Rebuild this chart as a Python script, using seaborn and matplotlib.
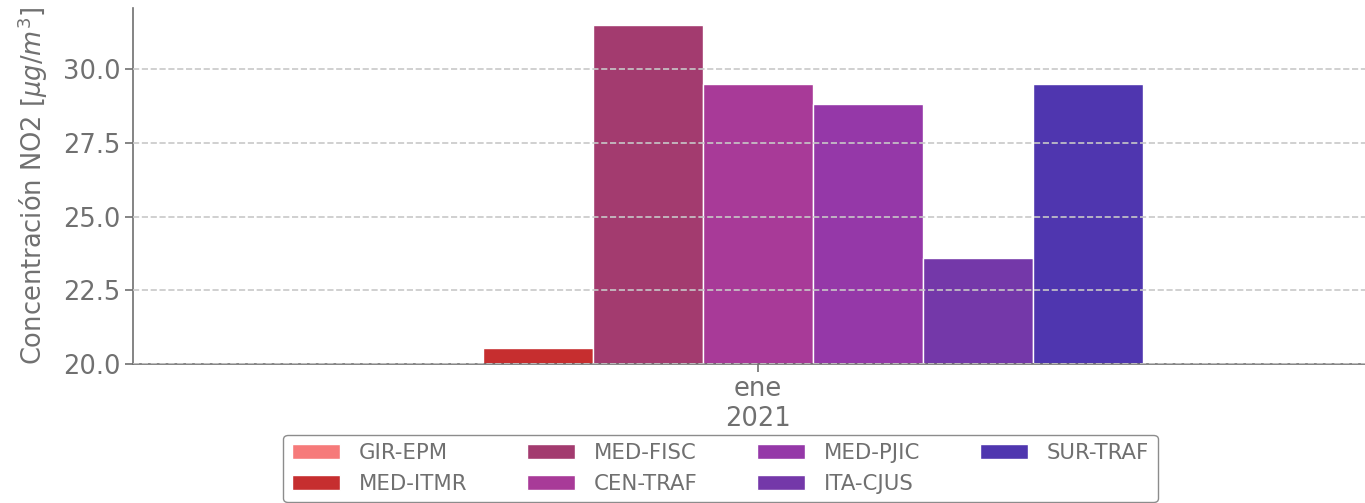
import pandas as pd
import matplotlib
matplotlib.use("Agg")
import matplotlib.pyplot as plt
import seaborn as sns

# Datos
estaciones = ['GIR-EPM', 'MED-ITMR', 'MED-FISC', 'CEN-TRAF', 'MED-PJIC', 'ITA-CJUS', 'SUR-TRAF']
concentracion = [19.0, 20.55, 31.5, 29.5, 28.8, 23.6, 29.5]
colores = ['#F67A7A', '#C62E2F', '#A33B6F', '#A83A98', '#9538A8', '#7438A9', '#4F36AF']
periodo = ['ene\n2021'] * len(estaciones)

data = pd.DataFrame({'Periodo': periodo, 'Estacion': estaciones, 'NO2': concentracion})

gris = '#707070'
sns.set_style('white')
plt.rcParams['font.family'] = ['DejaVu Sans']

fig = plt.figure(figsize=(13.65, 5.03), dpi=100)
# el eje x se extiende un poco más allá del borde derecho
ax = fig.add_axes([133 / 1365, 139 / 503, 1250 / 1365, 356 / 503])

sns.barplot(data=data, x='Periodo', y='NO2', hue='Estacion', hue_order=estaciones,
            palette=colores, saturation=1, width=0.616, edgecolor='white', linewidth=1,
            ax=ax, legend=True)

ax.set_ylim(20, 32.07)
ax.set_xlim(-0.5, 0.5)
ax.set_yticks([20.0, 22.5, 25.0, 27.5, 30.0])
ax.set_yticklabels(['20.0', '22.5', '25.0', '27.5', '30.0'])
ax.yaxis.grid(True, linestyle='--', color='#c8c8c8', linewidth=1.2)
ax.set_axisbelow(False)
ax.set_xlabel('')
ax.set_ylabel(r'Concentración NO2 [$\mu g/m^3$]', fontsize=18.5, color=gris, labelpad=9)
ax.tick_params(axis='both', labelsize=18.5, colors=gris, length=5.5, width=1.2)
ax.tick_params(axis='both', which='both', bottom=True, left=True)

for lado in ['top', 'right']:
    ax.spines[lado].set_visible(False)
for lado in ['left', 'bottom']:
    ax.spines[lado].set_color(gris)
    ax.spines[lado].set_linewidth(1.2)

ax.get_legend().remove()
handles, labels = ax.get_legend_handles_labels()
leg = fig.legend(handles, labels, ncol=4, loc='upper center',
                 bbox_to_anchor=(720.5 / 1365, 1 - 424 / 503), fontsize=15.3,
                 frameon=True, fancybox=True, edgecolor=gris, columnspacing=2.8,
                 handlelength=2.25, handletextpad=0.9)
for t in leg.get_texts():
    t.set_color(gris)

fig.savefig('out.png', dpi=100)
